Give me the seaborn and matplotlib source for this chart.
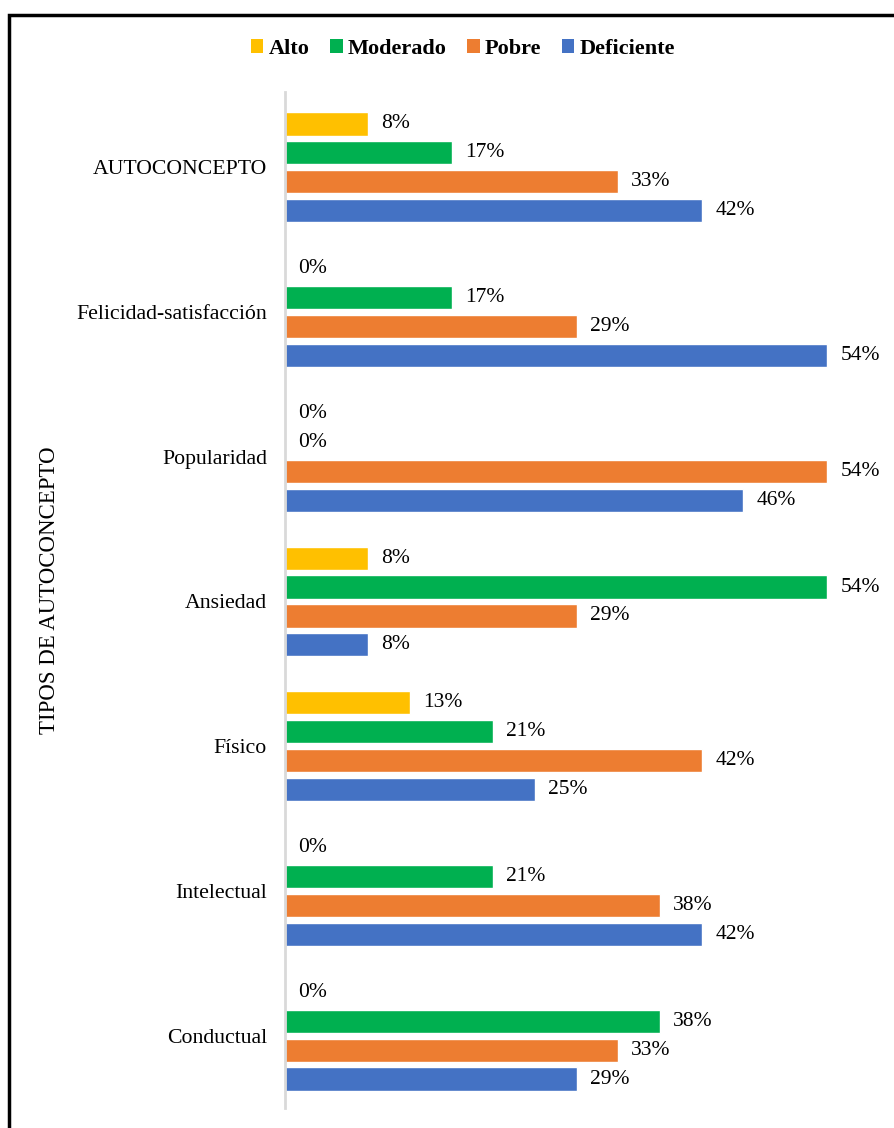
import matplotlib
matplotlib.use("Agg")
import matplotlib.pyplot as plt
import seaborn as sns
import pandas as pd
from matplotlib.patches import Rectangle, Patch

categories = ["AUTOCONCEPTO", "Felicidad-satisfacción", "Popularidad", "Ansiedad",
              "Físico", "Intelectual", "Conductual"]
series = ["Alto", "Moderado", "Pobre", "Deficiente"]
alto = [8.3, 0.0, 0.0, 8.3, 12.5, 0.0, 0.0]
moderado = [16.7, 16.7, 0.0, 54.2, 20.8, 20.8, 37.5]
pobre = [33.3, 29.2, 54.2, 29.2, 41.7, 37.5, 33.3]
deficiente = [41.7, 54.2, 45.8, 8.3, 25.0, 41.7, 29.2]
colors = ["#FFC000", "#00B050", "#ED7D31", "#4472C4"]
y_title = "TIPOS DE AUTOCONCEPTO"

rows = []
for s, vals in zip(series, [alto, moderado, pobre, deficiente]):
    for c, v in zip(categories, vals):
        rows.append({"cat": c, "serie": s, "val": v})
df = pd.DataFrame(rows)

sns.set_style("white")
plt.rcParams["font.family"] = ["Liberation Serif", "DejaVu Serif"]
plt.rcParams["text.color"] = "black"

W, H = 895, 1128
fig = plt.figure(figsize=(W / 100, H / 100), dpi=100)
top_px, bot_px = 95, 1108
ax = fig.add_axes([285 / W, 1 - bot_px / H, 595 / W, (bot_px - top_px) / H])

sns.barplot(data=df, y="cat", x="val", hue="serie", orient="h",
            order=categories, hue_order=series, palette=colors,
            width=0.8, gap=0.2, ax=ax, legend=False, saturation=1)

for cont in ax.containers:
    ax.bar_label(cont, labels=[f"{int(p.get_width() + 0.5)}%" for p in cont],
                 padding=9.5, fontsize=15.5, color="black")

ax.set_xlim(0, 59.5)
ax.set_ylim(6.5, -0.5)
ax.set_xlabel("")
ax.set_ylabel(y_title, fontsize=16.5, labelpad=0, color="black")
ax.yaxis.set_label_coords(-(285 - 60) / 595, (bot_px - 590) / (bot_px - top_px))
ax.set_xticks([])
ax.tick_params(axis="y", length=0, pad=13, labelsize=15.7, labelcolor="black")
for side in ["top", "right", "bottom"]:
    ax.spines[side].set_visible(False)
ax.spines["left"].set_color("#D9D9D9")
ax.spines["left"].set_linewidth(2)
ax.spines["left"].set_bounds(6.5, -0.5 - 3 / 144.7)

handles = [Patch(facecolor=c, edgecolor="none") for c in colors]
fig.legend(handles, series, loc="center", bbox_to_anchor=(463 / W, 1 - 49 / H),
           ncol=4, frameon=False, handlelength=0.55, handleheight=0.6,
           handletextpad=0.22, columnspacing=0.95,
           prop={"weight": "bold", "size": 16, "family": ["Liberation Serif"]})

fig.patches.append(Rectangle((9.5 / W, -0.2), 1.2, 1.2 - 14.5 / H,
                             transform=fig.transFigure, fill=False,
                             edgecolor="black", linewidth=2.5))

fig.savefig("out.png", dpi=100)
